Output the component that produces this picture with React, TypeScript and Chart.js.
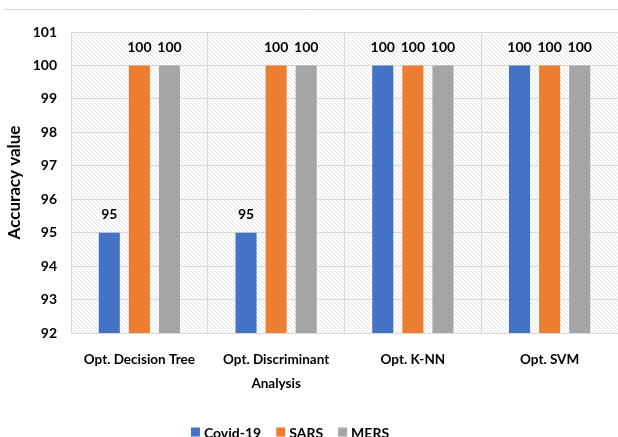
import React, { useEffect, useRef } from "react";
import { Chart, registerables } from "chart.js";

Chart.register(...registerables);

const categories: (string | string[])[] = [
  "Opt. Decision Tree",
  ["Opt. Discriminant", "Analysis"],
  "Opt. K-NN",
  "Opt. SVM",
];
const covid19 = [95, 95, 100, 100];
const sars = [100, 100, 100, 100];
const mers = [100, 100, 100, 100];
const seriesNames = ["Covid-19", "SARS", "MERS"];
const seriesColors = ["#4472C4", "#ED7D31", "#A5A5A5"];

const FONT = "Lato, 'Open Sans', sans-serif";

function makeHatch(ctx: CanvasRenderingContext2D) {
  const c = document.createElement("canvas");
  c.width = 4;
  c.height = 4;
  const g = c.getContext("2d")!;
  g.fillStyle = "#ffffff";
  g.fillRect(0, 0, 4, 4);
  g.strokeStyle = "#d8d8d8";
  g.lineWidth = 0.7;
  g.beginPath();
  g.moveTo(-1, -1);
  g.lineTo(5, 5);
  g.moveTo(-1, 3);
  g.lineTo(1, 5);
  g.moveTo(3, -1);
  g.lineTo(5, 1);
  g.stroke();
  return ctx.createPattern(c, "repeat");
}

const backdrop = {
  id: "backdrop",
  beforeDraw(chart: any) {
    const { ctx, chartArea } = chart;
    ctx.save();
    ctx.fillStyle = "#ffffff";
    ctx.fillRect(0, 0, chart.width, chart.height);
    ctx.strokeStyle = "#d9d9d9";
    ctx.lineWidth = 1;
    ctx.beginPath();
    ctx.moveTo(3, 9.5);
    ctx.lineTo(chart.width, 9.5);
    ctx.stroke();
    const p = makeHatch(ctx);
    if (p) {
      ctx.fillStyle = p;
      ctx.fillRect(
        chartArea.left,
        chartArea.top,
        chartArea.right - chartArea.left,
        chartArea.bottom - chartArea.top
      );
    }
    ctx.restore();
  },
};

const valueLabels = {
  id: "valueLabels",
  afterDatasetsDraw(chart: any) {
    const { ctx } = chart;
    ctx.save();
    ctx.font = `bold 14px ${FONT}`;
    ctx.fillStyle = "#000000";
    ctx.textAlign = "center";
    ctx.textBaseline = "middle";
    chart.data.datasets.forEach((ds: any, i: number) => {
      const meta = chart.getDatasetMeta(i);
      meta.data.forEach((bar: any, j: number) => {
        ctx.fillText(String(ds.data[j]), bar.x, bar.y - 18);
      });
    });
    ctx.restore();
  },
};

// Legend row under the axis: colour square followed by the series name
const bottomLegend = {
  id: "bottomLegend",
  afterDraw(chart: any) {
    const { ctx } = chart;
    ctx.save();
    ctx.font = `bold 14px ${FONT}`;
    ctx.textBaseline = "middle";
    ctx.textAlign = "left";
    const box = 9;
    const gapBoxText = 4;
    const gapItems = 15;
    const names = chart.data.datasets.map((d: any) => d.label);
    const widths = names.map((n: string) => ctx.measureText(n).width);
    const total =
      widths.reduce((a: number, w: number) => a + box + gapBoxText + w, 0) +
      gapItems * (names.length - 1);
    let x = 290 - total / 2;
    const y = 432;
    names.forEach((n: string, i: number) => {
      ctx.fillStyle = chart.data.datasets[i].backgroundColor;
      ctx.fillRect(x, y - box / 2, box, box);
      x += box + gapBoxText;
      ctx.fillStyle = "#000000";
      ctx.fillText(n, x, y + 1);
      x += widths[i] + gapItems;
    });
    ctx.restore();
  },
};

export default function App() {
  const ref = useRef<HTMLCanvasElement>(null);

  useEffect(() => {
    const canvas = ref.current!;
    const chart = new Chart(canvas, {
      type: "bar",
      data: {
        labels: categories,
        datasets: [covid19, sars, mers].map((d, i) => ({
          label: seriesNames[i],
          data: d,
          backgroundColor: seriesColors[i],
          barPercentage: 0.7,
          categoryPercentage: 0.66,
        })),
      },
      options: {
        animation: false,
        responsive: false,
        maintainAspectRatio: false,
        layout: { padding: { top: 32, left: 4, right: 0, bottom: 34 } },
        plugins: {
          legend: { display: false },
          tooltip: { enabled: false },
        },
        scales: {
          x: {
            grid: { color: "#d9d9d9", drawTicks: false, offset: true },
            border: { color: "#d9d9d9" },
            ticks: {
              color: "#000000",
              padding: 15,
              maxRotation: 0,
              autoSkip: false,
              font: { family: FONT, size: 13.5, weight: "bold", lineHeight: 1.78 },
            },
            afterFit(scale: any) {
              scale.height = 70;
            },
          },
          y: {
            min: 92,
            max: 101,
            grid: { color: "#d9d9d9", drawTicks: false },
            border: { color: "#d9d9d9" },
            ticks: {
              stepSize: 1,
              color: "#000000",
              padding: 14,
              font: { family: FONT, size: 14, weight: "bold" },
            },
            title: {
              display: true,
              text: "Accuracy value",
              color: "#000000",
              padding: 0,
              font: { family: FONT, size: 17, weight: "bold" },
            },
            afterFit(scale: any) {
              scale.width = 67;
            },
          },
        },
      },
      plugins: [backdrop, valueLabels, bottomLegend],
    });
    return () => chart.destroy();
  }, []);

  return (
    <div style={{ position: "fixed", left: 0, top: 0, width: 618, height: 437 }}>
      <canvas ref={ref} width={618} height={437} />
    </div>
  );
}
